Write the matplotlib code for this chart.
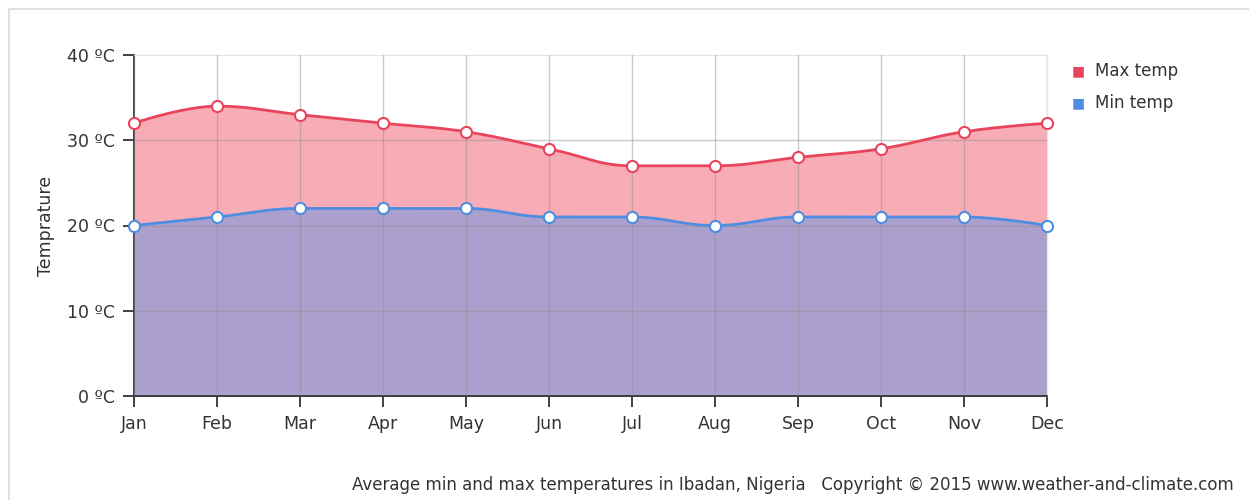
import numpy as np
import matplotlib
matplotlib.use("Agg")
import matplotlib.pyplot as plt
from matplotlib.patches import Rectangle

months = ['Jan', 'Feb', 'Mar', 'Apr', 'May', 'Jun', 'Jul', 'Aug', 'Sep', 'Oct', 'Nov', 'Dec']
max_temp = [32, 34, 33, 32, 31, 29, 27, 27, 28, 29, 31, 32]
min_temp = [20, 21, 22, 22, 22, 21, 21, 20, 21, 21, 21, 20]
y_ticks = [0, 10, 20, 30, 40]
y_labels = ['0 ºC', '10 ºC', '20 ºC', '30 ºC', '40 ºC']

plt.rcParams['font.family'] = ['DejaVu Sans']


def spline(xs, ys, smoothing=1.5, n=30):
    # highcharts-like spline through the points
    xs = np.asarray(xs, float)
    ys = np.asarray(ys, float)
    k = len(xs)
    lc = [None] * k
    rc = [None] * k
    d = smoothing + 1
    for i in range(k):
        if i == 0 or i == k - 1:
            lc[i] = (xs[i], ys[i])
            rc[i] = (xs[i], ys[i])
            continue
        lx = (smoothing * xs[i] + xs[i - 1]) / d
        ly = (smoothing * ys[i] + ys[i - 1]) / d
        rx = (smoothing * xs[i] + xs[i + 1]) / d
        ry = (smoothing * ys[i] + ys[i + 1]) / d
        corr = (ry - ly) * (rx - xs[i]) / (rx - lx) + ys[i] - ry
        ly += corr
        ry += corr
        if ly > ys[i - 1] and ly > ys[i]:
            ly = max(ys[i - 1], ys[i]); ry = 2 * ys[i] - ly
        elif ly < ys[i - 1] and ly < ys[i]:
            ly = min(ys[i - 1], ys[i]); ry = 2 * ys[i] - ly
        if ry > ys[i + 1] and ry > ys[i]:
            ry = max(ys[i + 1], ys[i]); ly = 2 * ys[i] - ry
        elif ry < ys[i + 1] and ry < ys[i]:
            ry = min(ys[i + 1], ys[i]); ly = 2 * ys[i] - ry
        lc[i] = (lx, ly)
        rc[i] = (rx, ry)
    t = np.linspace(0, 1, n)[:, None]
    pts = []
    for i in range(k - 1):
        p0 = np.array([xs[i], ys[i]])
        p1 = np.array(rc[i])
        p2 = np.array(lc[i + 1])
        p3 = np.array([xs[i + 1], ys[i + 1]])
        seg = (1 - t) ** 3 * p0 + 3 * (1 - t) ** 2 * t * p1 + 3 * (1 - t) * t ** 2 * p2 + t ** 3 * p3
        pts.append(seg if i == 0 else seg[1:])
    pts = np.vstack(pts)
    return pts[:, 0], pts[:, 1]


fig = plt.figure(figsize=(12.49, 5), dpi=100)
fig.patches.append(Rectangle((9 / 1249, -0.1), 1.2, (500 - 9) / 500 + 0.1, transform=fig.transFigure,
                             fill=False, edgecolor='#d9d9d9', linewidth=1.2))

ax = fig.add_axes([134 / 1249, (500 - 396) / 500, (1047 - 134) / 1249, (396 - 55) / 500])
x = np.arange(len(months))

mx, my = spline(x, max_temp)
nx, ny = spline(x, min_temp)

ax.fill_between(mx, my, 0, color='#f8acb6', zorder=1, linewidth=0)
ax.fill_between(nx, ny, 0, color='#aba0cd', zorder=2, linewidth=0)

for xi in x:
    ax.axvline(xi, color='#8c8c8c', alpha=0.45, linewidth=1, zorder=3)
for yv in [10, 20, 30]:
    ax.axhline(yv, color='#8c8c8c', alpha=0.45, linewidth=1, zorder=3)

ax.plot(mx, my, color='#e8455c', linewidth=2, zorder=4)
ax.plot(nx, ny, color='#4f8de0', linewidth=2, zorder=4)
ax.plot(x, max_temp, 'o', markersize=8, markerfacecolor='white', markeredgecolor='#e8455c',
        markeredgewidth=1.5, zorder=5, clip_on=False)
ax.plot(x, min_temp, 'o', markersize=8, markerfacecolor='white', markeredgecolor='#4f8de0',
        markeredgewidth=1.5, zorder=5, clip_on=False)

ax.set_xlim(0, len(months) - 1)
ax.set_ylim(0, 40)
ax.set_xticks(x)
ax.set_xticklabels(months, fontsize=12.5, color='#333333')
ax.set_yticks(y_ticks)
ax.set_yticklabels(y_labels, fontsize=12.5, color='#333333')
ax.tick_params(axis='both', length=8, width=1.3, color='#333333', pad=6)

for s in ['top', 'right']:
    ax.spines[s].set_color('#e6e6e6')
    ax.spines[s].set_linewidth(1)
ax.spines['left'].set_color('#333333')
ax.spines['left'].set_linewidth(1.3)
ax.spines['bottom'].set_color('#333333')
ax.spines['bottom'].set_linewidth(1.3)
ax.set_ylabel('Temprature', fontsize=12.5, color='#333333', labelpad=8)

# legend
fig.text(1078 / 1249, 1 - 71 / 500, '■', color='#e8455c', fontsize=10, ha='center', va='center')
fig.text(1095 / 1249, 1 - 71 / 500, 'Max temp', color='#333333', fontsize=12, va='center')
fig.text(1078 / 1249, 1 - 103 / 500, '■', color='#4f8de0', fontsize=10, ha='center', va='center')
fig.text(1095 / 1249, 1 - 103 / 500, 'Min temp', color='#333333', fontsize=12, va='center')

fig.text(1234 / 1249, 1 - 485 / 500,
         'Average min and max temperatures in Ibadan, Nigeria   Copyright © 2015 www.weather-and-climate.com',
         ha='right', va='center', fontsize=12, color='#333333')

fig.savefig('out.png', dpi=100)
